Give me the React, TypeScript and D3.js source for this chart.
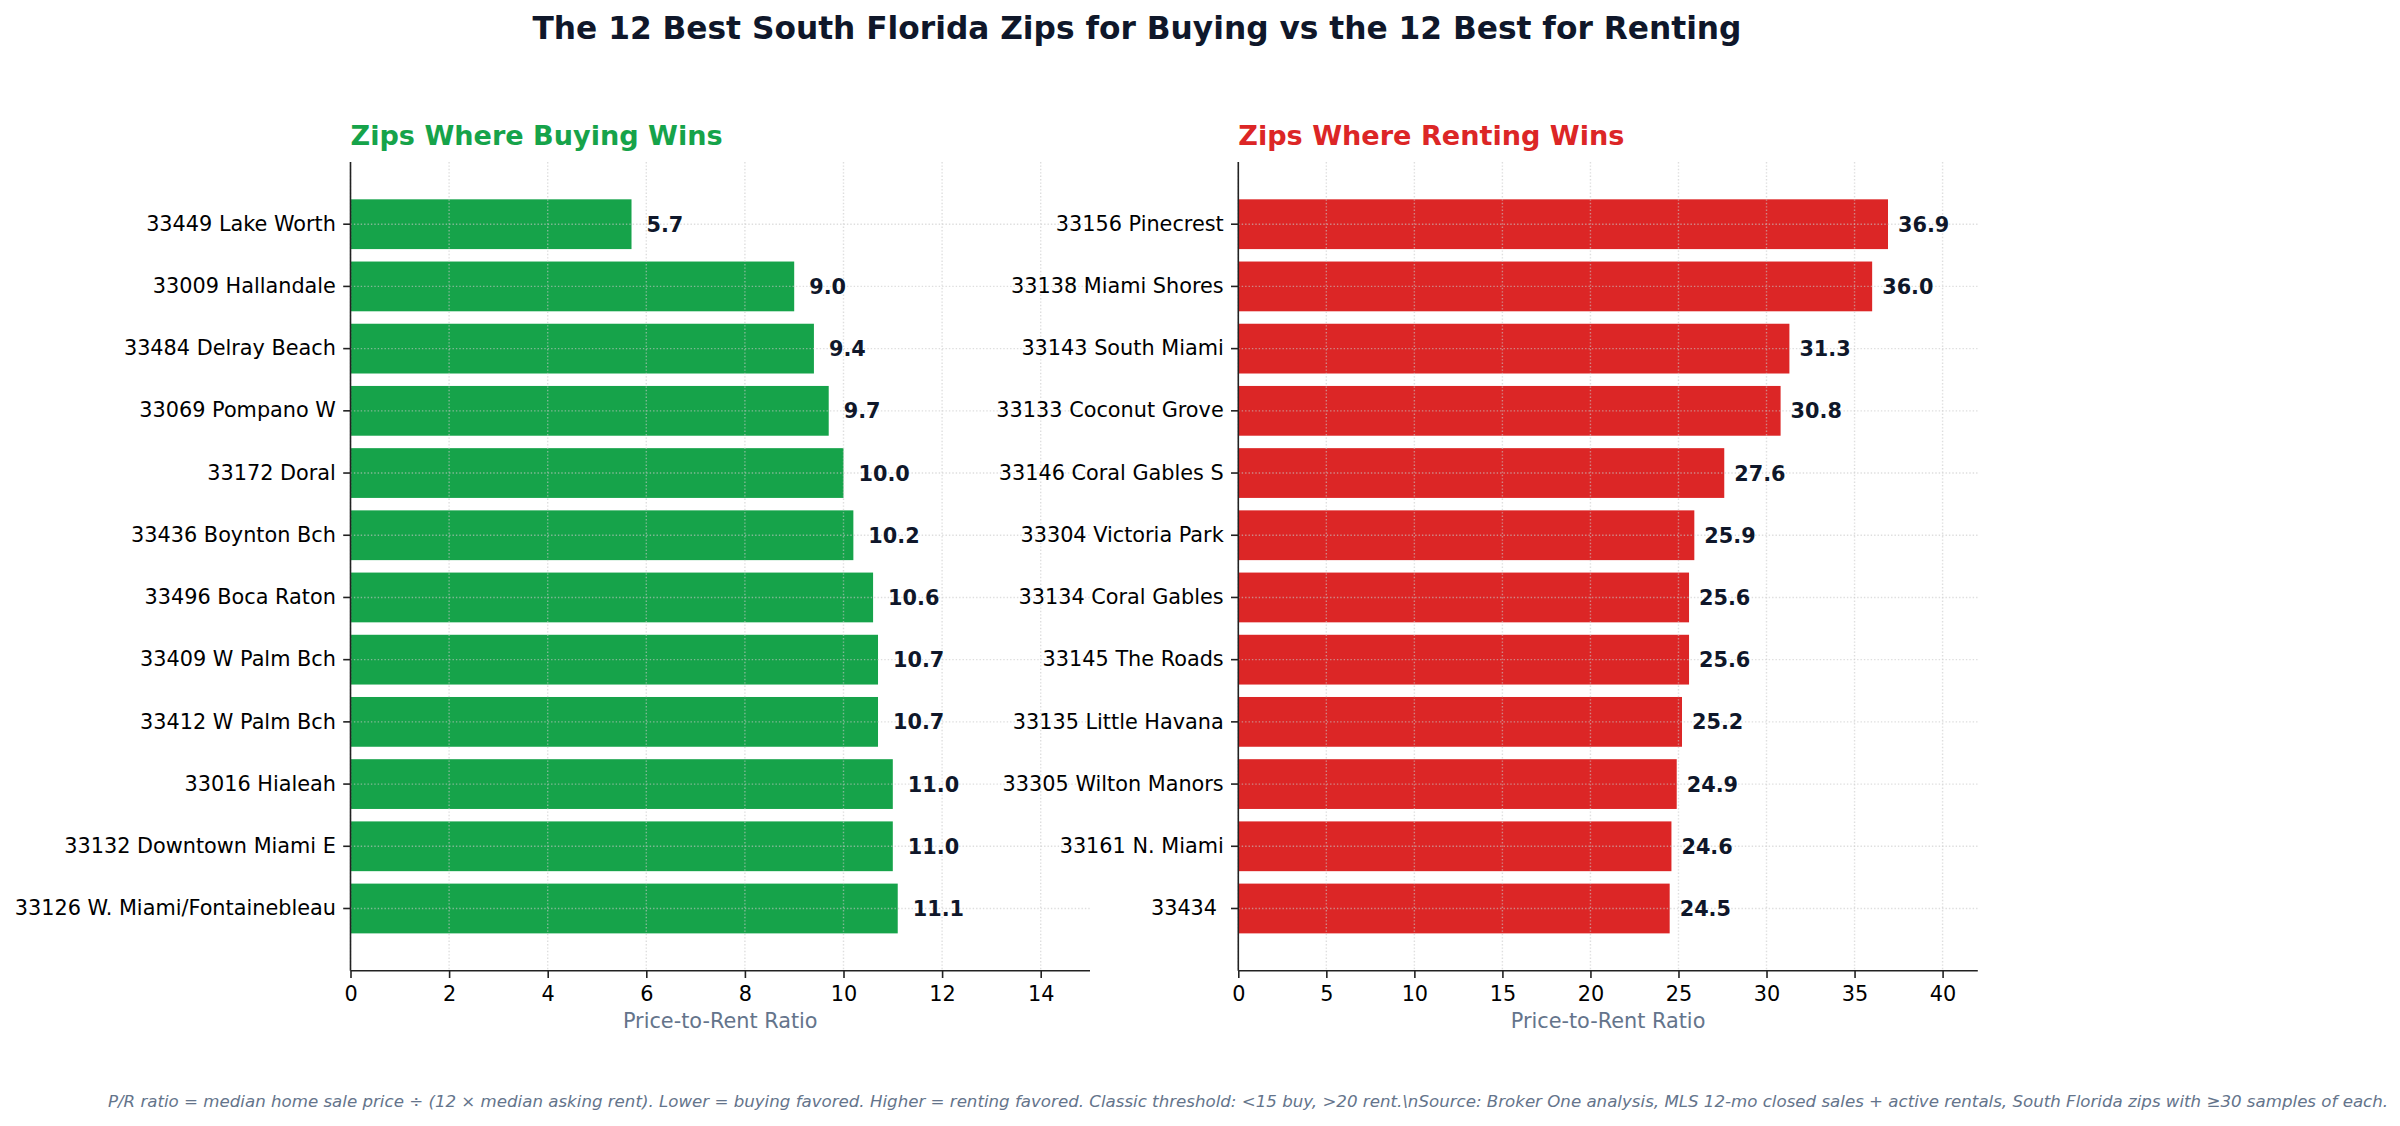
import React, { useRef, useEffect } from 'react';
import * as d3 from 'd3';

// zips where buying wins (lowest price-to-rent), top to bottom
const buyZips: string[] = [
  '33449 Lake Worth',
  '33009 Hallandale',
  '33484 Delray Beach',
  '33069 Pompano W',
  '33172 Doral',
  '33436 Boynton Bch',
  '33496 Boca Raton',
  '33409 W Palm Bch',
  '33412 W Palm Bch',
  '33016 Hialeah',
  '33132 Downtown Miami E',
  '33126 W. Miami/Fontainebleau',
];
const buyRatios: number[] = [5.7, 9.0, 9.4, 9.7, 10.0, 10.2, 10.6, 10.7, 10.7, 11.0, 11.0, 11.1];

// zips where renting wins (highest price-to-rent), top to bottom
const rentZips: string[] = [
  '33156 Pinecrest',
  '33138 Miami Shores',
  '33143 South Miami',
  '33133 Coconut Grove',
  '33146 Coral Gables S',
  '33304 Victoria Park',
  '33134 Coral Gables',
  '33145 The Roads',
  '33135 Little Havana',
  '33305 Wilton Manors',
  '33161 N. Miami',
  '33434 ',
];
const rentRatios: number[] = [36.9, 36.0, 31.3, 30.8, 27.6, 25.9, 25.6, 25.6, 25.2, 24.9, 24.6, 24.5];

const buyTicks: number[] = [0, 2, 4, 6, 8, 10, 12, 14];
const rentTicks: number[] = [0, 5, 10, 15, 20, 25, 30, 35, 40];

const TITLE = 'The 12 Best South Florida Zips for Buying vs the 12 Best for Renting';
const FOOTNOTE =
  'P/R ratio = median home sale price \u00f7 (12 \u00d7 median asking rent). Lower = buying favored. Higher = renting favored. Classic threshold: <15 buy, >20 rent.\\nSource: Broker One analysis, MLS 12-mo closed sales + active rentals, South Florida zips with \u226530 samples of each.';

const FONT = 'DejaVu Sans';
const W = 2400;
const H = 1126;

const App = () => {
  const svgRef = useRef<SVGSVGElement>(null);

  useEffect(() => {
    const svg = d3.select(svgRef.current);
    svg.selectAll('*').remove();

    svg.append('rect').attr('width', W).attr('height', H).attr('fill', '#ffffff');

    svg.append('text')
      .attr('x', 1137)
      .attr('y', 39)
      .attr('text-anchor', 'middle')
      .attr('font-family', FONT)
      .attr('font-weight', 'bold')
      .attr('font-size', 31.25)
      .attr('fill', '#0f172a')
      .text(TITLE);

    const top = 162;
    const bottom = 970.7;
    const plotW = 739.5;

    const panel = (
      left: number,
      zips: string[],
      values: number[],
      maxX: number,
      ticks: number[],
      color: string,
      title: string,
      labelGap: number
    ) => {
      const x = d3.scaleLinear().domain([0, maxX]).range([left, left + plotW]);
      const y = d3.scaleBand<string>()
        .domain(zips)
        .range([top, bottom])
        .paddingInner(0.2)
        .paddingOuter(0.6);
      const g = svg.append('g');

      // bars
      g.selectAll('rect.bar')
        .data(values)
        .enter()
        .append('rect')
        .attr('class', 'bar')
        .attr('x', x(0))
        .attr('y', (d, i) => y(zips[i]) as number)
        .attr('width', (d) => x(d) - x(0))
        .attr('height', y.bandwidth())
        .attr('fill', color);

      // dotted grid on both axes
      const grid = g.append('g')
        .attr('stroke', '#c8c8c8')
        .attr('stroke-opacity', 0.6)
        .attr('stroke-width', 1.4)
        .attr('stroke-dasharray', '1.4,2');
      grid.selectAll('line.vx')
        .data(ticks)
        .enter()
        .append('line')
        .attr('x1', (d) => x(d))
        .attr('x2', (d) => x(d))
        .attr('y1', top)
        .attr('y2', bottom);
      grid.selectAll('line.hy')
        .data(zips)
        .enter()
        .append('line')
        .attr('x1', left)
        .attr('x2', left + plotW)
        .attr('y1', (d) => (y(d) as number) + y.bandwidth() / 2)
        .attr('y2', (d) => (y(d) as number) + y.bandwidth() / 2);

      // value labels
      g.selectAll('text.val')
        .data(values)
        .enter()
        .append('text')
        .attr('x', (d) => x(d) + labelGap)
        .attr('y', (d, i) => (y(zips[i]) as number) + y.bandwidth() / 2)
        .attr('dy', '0.36em')
        .attr('font-family', FONT)
        .attr('font-weight', 'bold')
        .attr('font-size', 20.8)
        .attr('fill', '#0f172a')
        .text((d) => d.toFixed(1));

      // y axis
      const yAxis = g.append('g')
        .attr('transform', `translate(${left},0)`)
        .call(d3.axisLeft(y).tickSize(7.3).tickPadding(7.3).tickSizeOuter(0));
      yAxis.select('.domain').remove();
      yAxis.selectAll('line').attr('stroke', '#222').attr('stroke-width', 1.6);
      yAxis.selectAll('text')
        .attr('font-family', FONT)
        .attr('font-size', 20.8)
        .attr('fill', '#000')
        .style('white-space', 'pre');

      // x axis
      const xAxis = g.append('g')
        .attr('transform', `translate(0,${bottom})`)
        .call(d3.axisBottom(x).tickValues(ticks).tickSize(7.3).tickPadding(7.3).tickSizeOuter(0));
      xAxis.select('.domain').remove();
      xAxis.selectAll('line').attr('stroke', '#222').attr('stroke-width', 1.6);
      xAxis.selectAll('text')
        .attr('font-family', FONT)
        .attr('font-size', 20.8)
        .attr('fill', '#000')
        .attr('dy', '0.76em');

      // spines
      g.append('line')
        .attr('x1', left).attr('x2', left)
        .attr('y1', top).attr('y2', bottom)
        .attr('stroke', '#222').attr('stroke-width', 1.6);
      g.append('line')
        .attr('x1', left).attr('x2', left + plotW)
        .attr('y1', bottom).attr('y2', bottom)
        .attr('stroke', '#222').attr('stroke-width', 1.6);

      g.append('text')
        .attr('x', left + plotW / 2)
        .attr('y', 1027.5)
        .attr('text-anchor', 'middle')
        .attr('font-family', FONT)
        .attr('font-size', 20.8)
        .attr('fill', '#64748b')
        .text('Price-to-Rent Ratio');

      g.append('text')
        .attr('x', left)
        .attr('y', 145)
        .attr('font-family', FONT)
        .attr('font-weight', 'bold')
        .attr('font-size', 27.1)
        .attr('fill', color)
        .text(title);
    };

    panel(350.5, buyZips, buyRatios, 15, buyTicks, '#16a34a', 'Zips Where Buying Wins', 15);
    panel(1238.3, rentZips, rentRatios, 42, rentTicks, '#dc2626', 'Zips Where Renting Wins', 10);

    svg.append('text')
      .attr('x', 1248)
      .attr('y', 1106.5)
      .attr('text-anchor', 'middle')
      .attr('font-family', FONT)
      .attr('font-style', 'italic')
      .attr('font-size', 16.65)
      .attr('fill', '#64748b')
      .text(FOOTNOTE);
  }, []);

  return (
    <div style={{ position: 'absolute', left: 0, top: 0 }}>
      <svg ref={svgRef} width={W} height={H} style={{ display: 'block' }} />
    </div>
  );
};

export default App;
